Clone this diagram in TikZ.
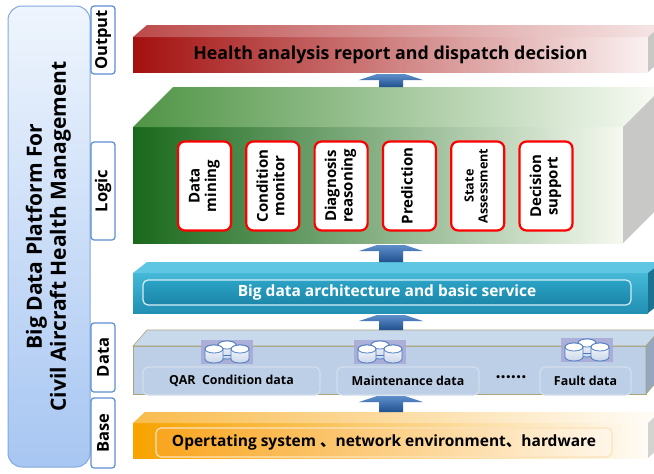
\documentclass[tikz,border=0pt]{standalone}
\usepackage{fontspec}
\setmainfont{Open Sans}
\newfontfamily\cjk{Noto Sans CJK SC}
\usepackage{xcolor}
\usetikzlibrary{positioning,calc}

\definecolor{platT}{HTML}{EFF5FD}
\definecolor{platB}{HTML}{A7C6F2}
\definecolor{platedge}{HTML}{83A9DD}
\definecolor{tagblue}{HTML}{5B8FD0}
\definecolor{redL}{HTML}{A3100F}
\definecolor{redR}{HTML}{FBF1F1}
\definecolor{redtopL}{HTML}{BC4A4A}
\definecolor{redtopR}{HTML}{F6E6E6}
\definecolor{sidegray}{HTML}{C8C8C6}
\definecolor{greenL}{HTML}{19691B}
\definecolor{greenR}{HTML}{F6F9F0}
\definecolor{greentopL}{HTML}{4F9445}
\definecolor{greentopR}{HTML}{FAFCF6}
\definecolor{archT}{HTML}{45B8D8}
\definecolor{archB}{HTML}{2190B2}
\definecolor{archtop}{HTML}{5EC5E2}
\definecolor{archside}{HTML}{1C7391}
\definecolor{archinT}{HTML}{2BA3C6}
\definecolor{archinB}{HTML}{1C86A8}
\definecolor{archedge}{HTML}{D6EEF5}
\definecolor{datafront}{HTML}{BCCFE7}
\definecolor{datatop}{HTML}{C9D9EC}
\definecolor{dataside}{HTML}{95A7BF}
\definecolor{dataedge}{HTML}{A9A47A}
\definecolor{storeedge}{HTML}{D2DEED}
\definecolor{baseL}{HTML}{F7A300}
\definecolor{baseR}{HTML}{FFFBF5}
\definecolor{basetopL}{HTML}{F9BB4C}
\definecolor{basetopR}{HTML}{FFFDF9}
\definecolor{baseinL}{HTML}{F9A51E}
\definecolor{baseinR}{HTML}{FFF7EA}
\definecolor{baseedge}{HTML}{FBE3BC}
\definecolor{arrowtop}{HTML}{5E8FCB}
\definecolor{arrowbot}{HTML}{21508F}
\definecolor{dbback}{HTML}{A9ABD6}
\definecolor{dbedge}{HTML}{4A7BC0}
\definecolor{dbshade}{HTML}{C9D6EA}

\newcommand{\vtext}[1]{\rotatebox{90}{\begin{tabular}{@{}c@{}}#1\end{tabular}}}
% top and side face of a layer block
\newcommand{\blockfaces}[5]{%
  \path[#4] (#1.north west) -- ++(#2,-#3) -- ($(#1.north east)+(#2,-#3)$) -- (#1.north east) -- cycle;
  \path[#5] (#1.north east) -- ++(#2,-#3) -- ($(#1.south east)+(#2,-#3)$) -- (#1.south east) -- cycle;
  \coordinate (#1 top) at ($(#1.north)+(0,-#3)$);
}
% up arrow from a block top to the block above
\newcommand{\layerarrow}[2]{%
  \path[layerarrow] let \p1=(#1), \p2=(#2.south), \p3=(axis) in
    (\x3-12pt,\y1) -- (\x3-12pt,\y2-8pt) -- (\x3-32pt,\y2-8pt) -- (\x3-14pt,\y2-2pt)
    -- (\x3+14pt,\y2-2pt) -- (\x3+32pt,\y2-8pt) -- (\x3+12pt,\y2-8pt) -- (\x3+12pt,\y1) -- cycle;
}
\newcommand{\dbcyl}[2]{%
  \path[top color=white, bottom color=dbshade, draw=dbedge, line width=0.8pt]
    (#1-9pt,#2) -- (#1-9pt,#2-10pt) arc[start angle=180, end angle=360, x radius=9pt, y radius=4pt]
    -- (#1+9pt,#2) arc[start angle=0, end angle=180, x radius=9pt, y radius=4pt] -- cycle;
  \path[fill=white, draw=dbedge, line width=0.8pt] (#1,#2) ellipse [x radius=9pt, y radius=4pt];
}

\tikzset{
  layer/.style={rectangle, inner sep=0pt, outer sep=0pt},
  platform/.style={draw=platedge, line width=1pt, rounded corners=14pt, top color=platT, bottom color=platB,
    minimum width=82pt, minimum height=461pt, inner sep=0pt, font=\fontsize{21}{24}\selectfont\bfseries},
  tag/.style={draw=tagblue, line width=1.2pt, fill=white, rounded corners=3pt, inner sep=0pt,
    minimum width=24pt, font=\fontsize{16.5}{18}\selectfont\bfseries},
  task/.style={draw=red, line width=2.2pt, fill=white, rounded corners=7pt, minimum width=53pt,
    minimum height=89pt, inner sep=0pt, outer sep=0pt, font=\fontsize{15}{16.5}\selectfont\bfseries},
  store/.style={draw=storeedge, line width=1.2pt, fill=datafront, rounded corners=5pt, minimum height=28pt,
    inner sep=0pt, font=\fontsize{12.4}{14}\selectfont\bfseries},
  layerarrow/.style={top color=arrowtop, bottom color=arrowbot},
  pics/dbicon/.style={code={
    \fill[dbback, opacity=0.9] (-26pt,-12pt) rectangle (26pt,12pt);
    \dbcyl{0pt}{7pt}
    \draw[dbedge, line width=0.8pt] (-4pt,-3pt) -- (4pt,-3pt);
    \dbcyl{-13pt}{3pt}
    \dbcyl{13pt}{3pt}
  }}
}

\begin{document}
\begin{tikzpicture}[x=1pt, y=-1pt, node distance=15.3pt]
\useasboundingbox[fill=white] (0,0) rectangle (654,474);

% Define nodes
\node[platform] (platform) at (49,236.5) {\rotatebox{90}{\begin{tabular}{c}Big Data Platform For\\Civil Aircraft Health Management\end{tabular}}};

\node[tag, minimum height=68pt] (output) at (103,40) {\rotatebox{90}{Output}};
\node[tag, minimum height=98pt] (logic) at (103,191) {\rotatebox{90}{Logic}};
\node[tag, minimum height=69pt] (datatag) at (103,357.5) {\rotatebox{90}{Data}};
\node[tag, minimum height=70pt] (basetag) at (103,433) {\rotatebox{90}{Base}};

% output layer
\node[layer, left color=redL, right color=redR, minimum width=515pt, minimum height=35pt,
  font=\fontsize{17.8}{20}\selectfont\bfseries] (report) at (390.5,54.5) {Health analysis report and dispatch decision};
\blockfaces{report}{14}{12}{left color=redtopL, right color=redtopR}{fill=sidegray}

% logic layer
\node[layer, left color=greenL, right color=greenR, minimum width=490pt, minimum height=116pt] (logicbox) at (378,185) {};
\blockfaces{logicbox}{40}{40}{left color=greentopL, right color=greentopR}{fill=sidegray}
\node[task] (mining) at (204.5,186) {\vtext{Data\\mining}};
\node[task, right=of mining] (monitor) {\vtext{Condition\\monitor}};
\node[task, right=of monitor] (diagnosis) {\vtext{Diagnosis\\reasoning}};
\node[task, right=of diagnosis] (prediction) {\vtext{Prediction}};
\node[task, right=of prediction, font=\fontsize{12.6}{14}\selectfont\bfseries] (state) {\vtext{State\\Assessment}};
\node[task, right=of state] (decision) {\vtext{Decision\\support}};

% service layer
\node[layer, top color=archT, bottom color=archB, minimum width=515pt, minimum height=40pt] (arch) at (390.5,293) {};
\blockfaces{arch}{14}{11}{fill=archtop}{fill=archside}
\node[draw=archedge, line width=1.2pt, rounded corners=5pt, top color=archinT, bottom color=archinB,
  minimum width=488pt, minimum height=25pt, inner sep=0pt, text=white,
  font=\fontsize{15.5}{18}\selectfont\bfseries] (service) at (387,292.5) {Big data architecture and basic service};

% data layer
\node[layer, draw=dataedge, line width=0.6pt, fill=datafront, minimum width=513pt, minimum height=48pt] (data) at (389.5,370) {};
\blockfaces{data}{14}{16}{fill=datatop, draw=dataedge, line width=0.6pt}{fill=dataside, draw=dataedge, line width=0.6pt}
\node[store, minimum width=177pt] (qar) at (231.5,381) {QAR\ \ Condition data};
\node[store, minimum width=142pt] (maint) at (408,381) {Maintenance data};
\node[store, minimum width=91pt] (fault) at (585.5,381) {Fault data};
\node[font=\fontsize{18}{20}\selectfont\bfseries, inner sep=0pt] (dots) at (511,380) {······};
\pic (qardb) at (227,352) {dbicon};
\pic (maintdb) at (380,352) {dbicon};
\pic (faultdb) at (587,350) {dbicon};

% base layer
\node[layer, left color=baseL, right color=baseR, minimum width=515pt, minimum height=35pt] (base) at (390.5,440.5) {};
\blockfaces{base}{12}{11}{left color=basetopL, right color=basetopR}{fill=sidegray!80!white}
\node[draw=baseedge, line width=1.2pt, rounded corners=5pt, left color=baseinL, right color=baseinR,
  minimum width=456pt, minimum height=29pt, inner sep=0pt,
  font=\fontsize{15.5}{18}\selectfont\bfseries] (os) at (384,442.5) {Opertating system {\cjk 、}network environment{\cjk 、}hardware};

% Draw arrows
\coordinate (axis) at (391,0);
\layerarrow{logicbox top}{report}
\layerarrow{arch top}{logicbox}
\layerarrow{data top}{arch}
\layerarrow{base top}{data}
\end{tikzpicture}
\end{document}
